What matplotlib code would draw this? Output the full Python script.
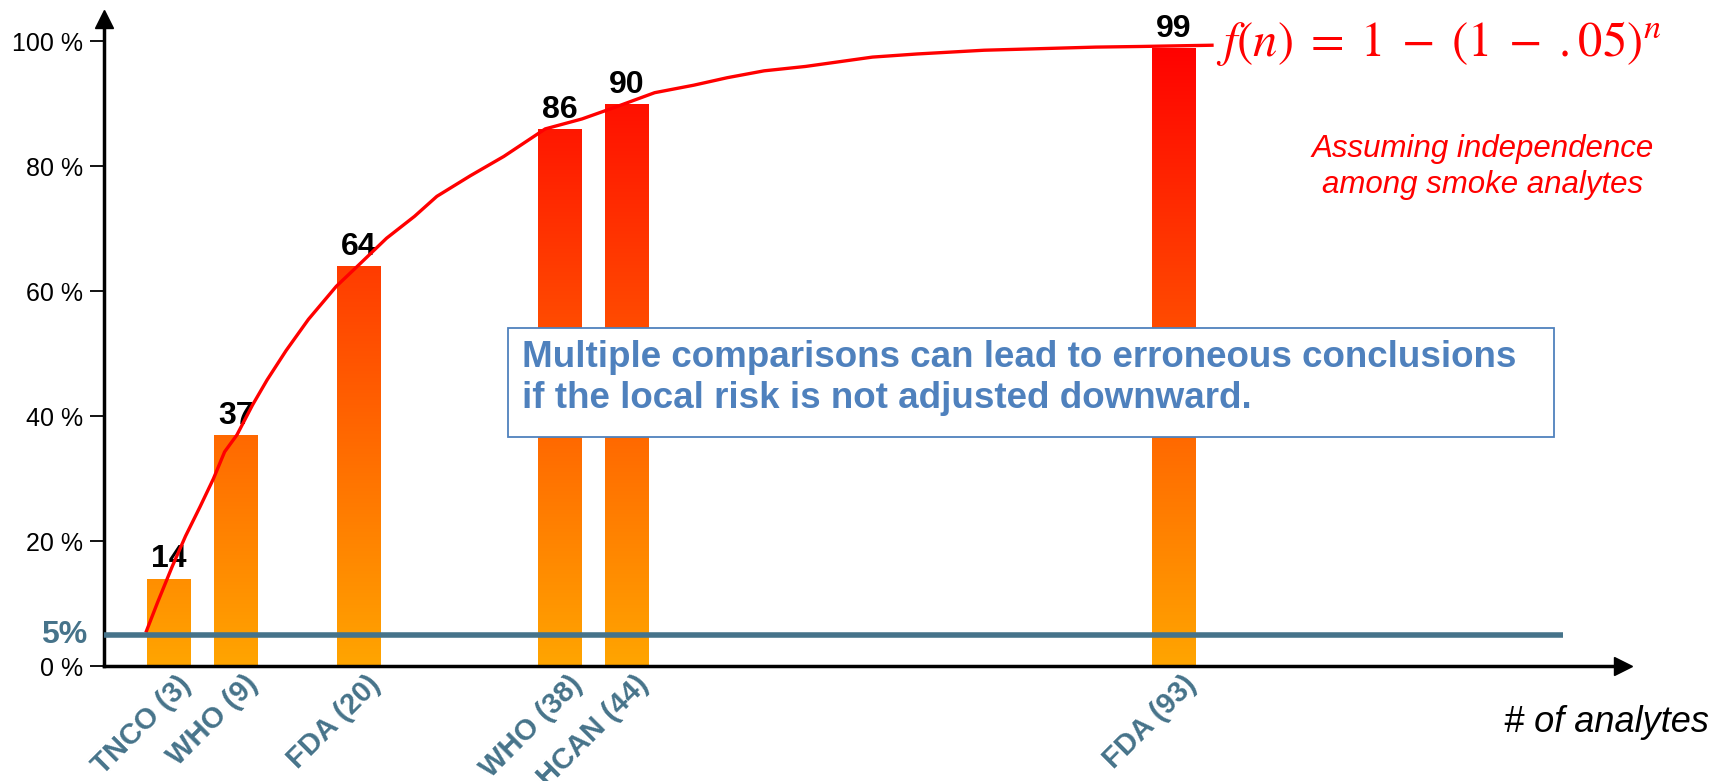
import matplotlib
matplotlib.use("Agg")
import matplotlib.pyplot as plt
import matplotlib.transforms as mtransforms
from matplotlib.colors import LinearSegmentedColormap
from matplotlib.patches import Rectangle
import numpy as np

# dados: numero de analitos por lista e risco global (%)
listas = ["TNCO (3)", "WHO (9)", "FDA (20)", "WHO (38)", "HCAN (44)", "FDA (93)"]
n_analitos = [3, 9, 20, 38, 44, 93]
risco = [14, 37, 64, 86, 90, 99]

# pontos da curva f(n)
curva_n = [1, 2, 3.3, 4.5, 5.8, 7, 8, 9.1, 10.5, 11.8, 13.5, 15.5, 18, 20, 22.5,
           25, 27, 30, 33, 36.7, 40, 43, 46.5, 50, 53, 56.3, 60, 66, 70, 76, 80,
           86, 90, 96.4]
curva_pct = [5.6, 10.2, 15.9, 20.8, 25.5, 30.0, 34.3, 37.0, 41.8, 45.8, 50.5,
             55.5, 60.8, 64.2, 68.5, 72.0, 75.2, 78.5, 81.6, 86.0, 87.6, 89.5,
             91.8, 93.0, 94.2, 95.3, 96.0, 97.5, 98.0, 98.6, 98.8, 99.1, 99.2, 99.4]

alfa = 5
yticks = [0, 20, 40, 60, 80, 100]

azul = "#46738A"
azul_caixa = "#4F81BD"
plt.rcParams["font.family"] = ["Liberation Sans", "DejaVu Sans"]
plt.rcParams["mathtext.fontset"] = "stix"

W, H = 1712, 781
fig = plt.figure(figsize=(W / 100, H / 100), dpi=100)
ax = fig.add_axes([104 / W, 1 - 666 / H, (1623 - 104) / W, (666 - 19) / H])
ax.set_xlim(-2.8, 133.2)
ax.set_ylim(0, 103.6)

# barras com degrade laranja -> vermelho
cmap = LinearSegmentedColormap.from_list("laranja", ["#FFA500", "#FF0000"])
gradiente = np.linspace(0, 100, 256).reshape(-1, 1)
barras = ax.bar(n_analitos, risco, width=3.9, facecolor="none", edgecolor="none", zorder=2)
for b in barras:
    x0 = b.get_x()
    im = ax.imshow(gradiente, extent=[x0, x0 + b.get_width(), 0, 100], origin="lower",
                   cmap=cmap, vmin=0, vmax=100, aspect="auto", zorder=2)
    im.set_clip_path(b)
    ax.annotate(str(int(b.get_height())), (x0 + b.get_width() / 2, b.get_height()),
                xytext=(0, 3), textcoords="offset points", ha="center", va="bottom",
                fontsize=23, fontweight="bold", zorder=3)

ax.plot(curva_n, curva_pct, color="red", lw=2.4, zorder=4)
ax.plot([-2.8, 127.8], [alfa, alfa], color=azul, lw=4, zorder=5, solid_capstyle="butt")
ax.text(-4.3, alfa, "5%", color=azul, fontsize=23, fontweight="bold", ha="right",
        va="center")

# eixos com setas
for s in ["top", "right"]:
    ax.spines[s].set_visible(False)
ax.spines["left"].set_linewidth(2.5)
ax.spines["bottom"].set_linewidth(2.5)
ax.plot(1, 0, ">k", ms=13, transform=ax.transAxes, clip_on=False)
ax.plot(0, 1, "^k", ms=13, transform=ax.transAxes, clip_on=False)

ax.set_yticks(yticks)
ax.set_yticklabels([f"{v} %" for v in yticks], fontsize=18)
ax.tick_params(axis="y", length=10, width=1.3, pad=5)

ax.set_xticks(n_analitos)
ax.set_xticklabels(listas, rotation=45, ha="right", va="top", rotation_mode="anchor",
                   color=azul, fontsize=21, fontweight="bold")
ax.tick_params(axis="x", length=0, pad=3)
desloc = mtransforms.ScaledTranslation(8 / 100, 0, fig.dpi_scale_trans)
for lbl in ax.get_xticklabels():
    lbl.set_transform(lbl.get_transform() + desloc)

fig.text(1709 / W, 1 - 723 / H, "# of analytes", ha="right", va="center",
         fontsize=26, style="italic")

ax.text(96.8, 99.6, r"$f(n)\;=\;1\;-\;(1\;-\;.05)^n$", color="red", fontsize=35,
        ha="left", va="center", zorder=6)
fig.text(1483 / W, 1 - 167 / H, "Assuming independence\namong smoke analytes",
         color="red", fontsize=22.5, style="italic", ha="center", va="center",
         linespacing=1.3)

# caixa de texto
fig.add_artist(Rectangle((508 / W, 1 - 437 / H), (1554 - 508) / W, (437 - 328) / H,
                         transform=fig.transFigure, facecolor="white",
                         edgecolor=azul_caixa, lw=1.3, zorder=10))
fig.text(522 / W, 1 - 378 / H,
         "Multiple comparisons can lead to erroneous conclusions\n"
         "if the local risk is not adjusted downward.",
         color=azul_caixa, fontsize=26.5, fontweight="bold", ha="left", va="center",
         linespacing=1.2, zorder=11)

fig.savefig("out.png", dpi=100)
